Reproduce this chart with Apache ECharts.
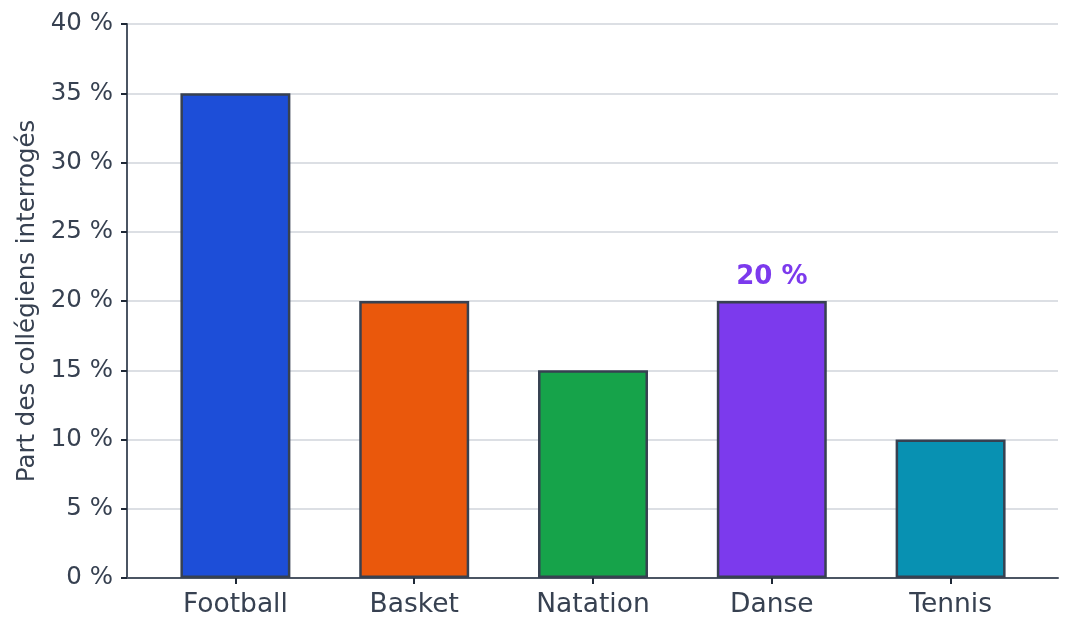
<!DOCTYPE html>
<html>
<head>
<meta charset="utf-8">
<script src="https://cdn.jsdelivr.net/npm/echarts@6/dist/echarts.min.js"></script>
<style>
  html, body { margin: 0; padding: 0; background: #fff; }
  #chart { width: 1072px; height: 635px; }
</style>
</head>
<body>
<div id="chart"></div>
<script>
var sports = ['Football', 'Basket', 'Natation', 'Danse', 'Tennis'];
var parts = [35, 20, 15, 20, 10];
var couleurs = ['#1d4ed8', '#ea580c', '#16a34a', '#7c3aed', '#0891b2'];
var indexLabel = 3; // seule la barre Danse porte une étiquette

var chart = echarts.init(document.getElementById('chart'));

var data = parts.map(function (v, i) {
    var item = {
        value: v,
        itemStyle: { color: couleurs[i] }
    };
    if (i === indexLabel) {
        item.label = {
            show: true,
            position: 'top',
            distance: 11,
            formatter: '{c} %',
            color: couleurs[i],
            fontWeight: 'bold',
            fontSize: 26,
            fontFamily: 'DejaVu Sans'
        };
    }
    return item;
});

var option = {
    animation: false,
    textStyle: { fontFamily: 'DejaVu Sans' },
    // grille 0 : axes, quadrillage ; grille 1 : barres (marge intérieure comme l'original)
    grid: [
        { left: 127, right: 14, top: 24, bottom: 57 },
        { left: 146, right: 32, top: 24, bottom: 57 }
    ],
    xAxis: [{
        type: 'category',
        gridIndex: 0,
        data: sports,
        axisLine: { lineStyle: { color: '#4b5563', width: 2 } },
        axisTick: { show: false },
        axisLabel: { show: false }
    }, {
        type: 'category',
        gridIndex: 1,
        data: sports,
        axisLine: { show: false },
        axisTick: { show: true, alignWithLabel: true, length: 6, lineStyle: { color: '#1f2937', width: 2 } },
        axisLabel: { color: '#374151', fontSize: 26.5, margin: 14 }
    }],
    yAxis: [{
        type: 'value',
        gridIndex: 0,
        min: 0,
        max: 40,
        interval: 5,
        name: 'Part des collégiens interrogés',
        nameLocation: 'middle',
        nameGap: 87,
        nameTextStyle: { color: '#374151', fontSize: 24.5 },
        axisLine: { show: true, lineStyle: { color: '#4b5563', width: 2 } },
        axisTick: { show: true, length: 6, lineStyle: { color: '#1f2937', width: 2 } },
        axisLabel: { color: '#374151', fontSize: 24.5, margin: 14, formatter: '{value} %' },
        splitLine: { lineStyle: { color: '#d1d5db', width: 1.5 } }
    }, {
        type: 'value',
        gridIndex: 1,
        min: 0,
        max: 40,
        interval: 5,
        show: false
    }],
    series: [{
        type: 'bar',
        xAxisIndex: 1,
        yAxisIndex: 1,
        data: data,
        barWidth: '61.5%',
        itemStyle: { borderColor: '#374151', borderWidth: 2.5 }
    }]
};

chart.setOption(option);
</script>
</body>
</html>
